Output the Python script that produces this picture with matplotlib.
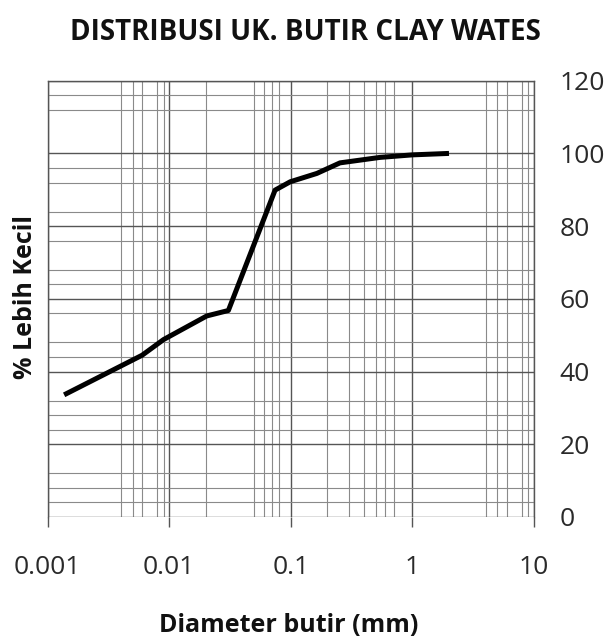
import matplotlib
matplotlib.use("Agg")
import matplotlib.pyplot as plt
from matplotlib.ticker import FixedLocator, NullFormatter

# ---- data ----
diameter_mm = [0.00137, 0.0060, 0.0090, 0.0204, 0.0307, 0.0743, 0.099, 0.164, 0.254, 0.54, 1.0, 2.0]
percent_finer = [33.6, 44.5, 48.8, 55.3, 56.8, 89.9, 92.2, 94.5, 97.4, 98.9, 99.6, 100.0]

x_major = [0.001, 0.01, 0.1, 1, 10]
x_major_labels = ["0.001", "0.01", "0.1", "1", "10"]
x_minor = [0.004, 0.005, 0.006, 0.008, 0.009,
           0.02, 0.05, 0.06, 0.07, 0.08,
           0.2, 0.3, 0.4, 0.5, 0.6, 0.7,
           4, 5, 6, 8, 9]
y_major = [0, 20, 40, 60, 80, 100, 120]
y_minor = [4, 8, 12, 24, 28, 32, 44, 48, 56, 64, 68, 76, 84, 92, 96, 112, 116]

title = "DISTRIBUSI UK. BUTIR CLAY WATES"
xlabel = "Diameter butir (mm)"
ylabel = "% Lebih Kecil"

plt.rcParams['font.family'] = ['Open Sans', 'DejaVu Sans']

W, H = 611, 641
fig = plt.figure(figsize=(W / 100, H / 100), dpi=100)
left, right, bottom, top = 47.5, 534, 517, 80.7
ax = fig.add_axes([left / W, 1 - bottom / H, (right - left) / W, (bottom - top) / H])

ax.set_xscale("log")
ax.set_xlim(0.001, 10)
ax.set_ylim(0, 120)

major_col = "#555555"
minor_col = "#8a8a8a"

ax.xaxis.set_major_locator(FixedLocator(x_major))
ax.set_xticks(x_major, x_major_labels)
ax.xaxis.set_minor_locator(FixedLocator(x_minor))
ax.xaxis.set_minor_formatter(NullFormatter())
ax.yaxis.set_major_locator(FixedLocator(y_major))
ax.yaxis.set_minor_locator(FixedLocator(y_minor))

ax.grid(True, which="major", axis="both", color=major_col, lw=1.0)
ax.grid(True, which="minor", axis="both", color=minor_col, lw=0.8)

ax.tick_params(axis="x", which="major", direction="out", length=7.2, width=1.0,
               color=major_col, pad=20, labelsize=19, labelcolor="#2a2a2a")
ax.tick_params(axis="x", which="minor", length=0)
ax.tick_params(axis="y", which="both", left=False, right=False, labelleft=False,
               labelright=True, pad=15, labelsize=19, labelcolor="#2a2a2a")
ax.tick_params(axis="y", which="minor", length=0)

for s in ["left", "right", "top"]:
    ax.spines[s].set_color(major_col)
    ax.spines[s].set_linewidth(1.0)
ax.spines["bottom"].set_visible(False)

ax.plot(diameter_mm, percent_finer, color="black", lw=3.6,
        solid_joinstyle="round", solid_capstyle="butt", zorder=5)

fig.text(305 / W, 1 - 33 / H, title, ha="center", va="center",
         fontsize=20, fontweight="bold", color="#111111")
fig.text(289 / W, 1 - 632 / H, xlabel, ha="center", va="baseline",
         fontsize=18, fontweight="bold", color="#111111")
fig.text(26 / W, 1 - 297 / H, ylabel, ha="center", va="center", rotation=90,
         fontsize=18, fontweight="bold", color="#111111")

fig.savefig("out.png", dpi=100)
